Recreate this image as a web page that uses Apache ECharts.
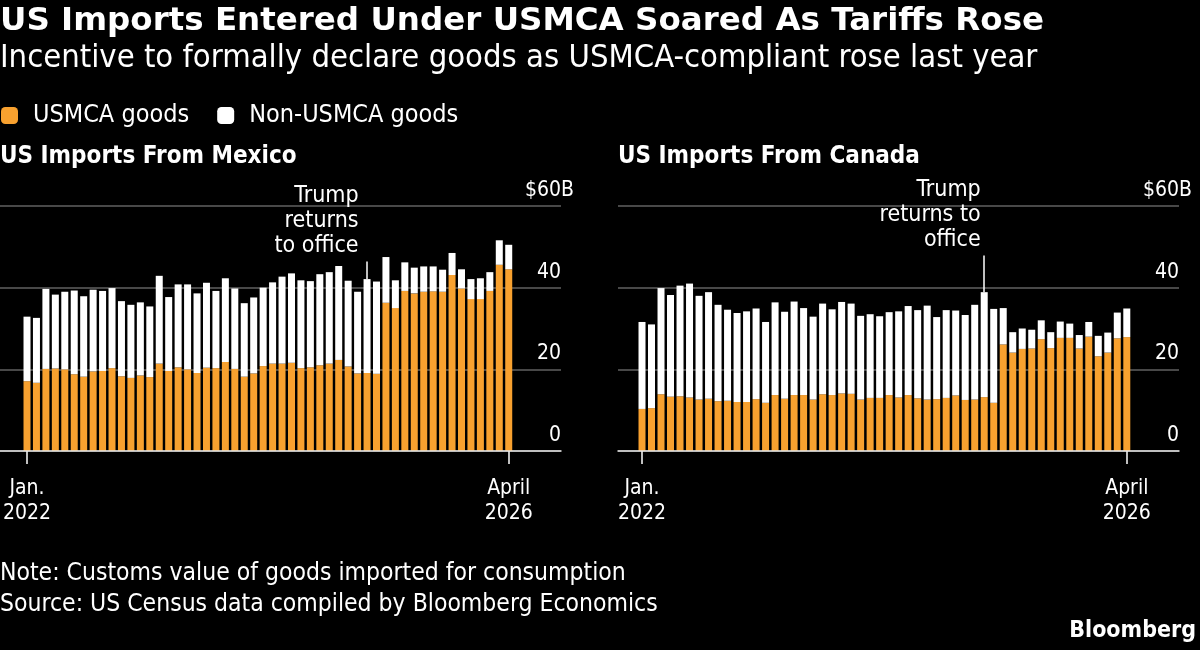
<!DOCTYPE html>
<html><head><meta charset="utf-8">
<script src="https://cdn.jsdelivr.net/npm/echarts@6/dist/echarts.min.js"></script>
<style>html,body{margin:0;padding:0;background:#000}#c{width:1200px;height:650px}</style>
</head><body><div id="c"></div>
<script>
// ---- data ----
const months = [];
for (let y = 2022; y <= 2026; y++) for (let m = 1; m <= 12; m++) { if (y === 2026 && m > 4) break; months.push(y + '-' + String(m).padStart(2, '0')); }
const mexicoUSMCA = [17.1,16.7,20.1,20.2,20.0,18.8,18.2,19.5,19.6,20.3,18.3,17.9,18.5,18.1,21.4,19.6,20.5,20.0,19.1,20.4,20.3,21.8,20.1,18.2,19.0,20.8,21.4,21.4,21.6,20.3,20.5,21.0,21.4,22.3,20.7,19.0,19.1,18.9,36.3,35.0,39.2,38.6,39.0,39.1,39.0,43.1,39.8,37.2,37.2,39.2,45.6,44.5];
const mexicoNonUSMCA = [15.8,15.9,19.6,18.1,19.0,20.5,19.7,20.0,19.6,19.6,18.4,17.9,17.9,17.3,21.5,18.1,20.3,20.8,19.5,20.8,18.9,20.5,19.7,18.0,18.6,19.2,19.9,21.3,21.9,21.5,21.1,22.3,22.4,23.0,21.0,20.0,23.0,22.6,11.2,6.8,7.0,6.3,6.2,6.1,5.4,5.4,4.7,4.9,5.1,4.6,6.0,6.0];
const canadaUSMCA = [10.3,10.5,13.9,13.3,13.4,13.1,12.6,12.8,12.2,12.3,12.0,12.0,12.7,11.8,13.7,12.8,13.7,13.7,12.6,13.9,13.7,14.1,14.0,12.6,13.0,13.0,13.7,13.1,13.7,12.9,12.6,12.7,13.0,13.6,12.5,12.6,13.2,11.8,26.1,24.1,25.0,25.1,27.4,25.2,27.7,27.7,25.1,28.0,23.2,24.1,27.6,27.9];
const canadaNonUSMCA = [21.3,20.5,26.0,24.9,27.1,27.9,25.4,26.1,23.6,22.3,21.8,22.2,22.2,19.8,22.7,21.3,22.9,21.3,20.3,22.2,21.0,22.4,22.1,20.5,20.5,20.0,20.3,21.1,21.8,21.6,23.0,20.1,21.5,20.8,20.8,23.2,25.7,23.0,8.9,5.0,5.0,4.6,4.6,3.9,4.0,3.5,3.3,3.6,5.0,4.9,6.3,7.0];
const yTicks = [0, 20, 40, 60];
const xTickLabels = ['Jan.\n2022', 'April\n2026'];
const seriesNames = ['USMCA goods', 'Non-USMCA goods'];
const trumpIndex = 36; // Jan. 2025
const annotationMexico = ['Trump', 'returns', 'to office'];
const annotationCanada = ['Trump', 'returns to', 'office'];
const annotationTop = [46.4, 47.9];

// ---- style ----
const ORANGE = '#f8a12f';
const COND = '"DejaVu Sans Condensed", "DejaVu Sans", sans-serif';
const WHITE = '#ffffff';
const GRID_TOP = 206, GRID_H = 245;
const panels = [
  { frameLeft: 0, barLeft: 19.45, barWidth: 494, usmca: mexicoUSMCA, non: mexicoNonUSMCA, stack: 'mx', ann: annotationMexico, annGap: 8.5, annTop: annotationTop[0] },
  { frameLeft: 618, barLeft: 637.25, barWidth: 494.3, usmca: canadaUSMCA, non: canadaNonUSMCA, stack: 'ca', ann: annotationCanada, annGap: 3.5, annTop: annotationTop[1] }
];

const grid = [], xAxis = [], yAxis = [], series = [];
panels.forEach((p, k) => {
  const fi = k * 2, bi = k * 2 + 1;
  grid.push({ left: p.frameLeft, top: GRID_TOP, width: 561, height: GRID_H });
  grid.push({ left: p.barLeft, top: GRID_TOP, width: p.barWidth, height: GRID_H });
  xAxis.push({ type: 'value', gridIndex: fi, min: 0, max: 1, axisLine: { show: true, lineStyle: { color: '#e6e6e6', width: 1.5 } }, axisTick: { show: false }, axisLabel: { show: false }, splitLine: { show: false }, z: 5 });
  xAxis.push({ type: 'category', gridIndex: bi, data: months, boundaryGap: true,
    axisLine: { show: false },
    axisTick: { show: true, alignWithLabel: true, length: 13, lineStyle: { color: WHITE, width: 1.5 }, interval: (i) => i === 0 || i === months.length - 1 },
    axisLabel: { show: true, color: WHITE, fontSize: 21, fontFamily: COND, lineHeight: 25, margin: 25,
      interval: (i) => i === 0 || i === months.length - 1,
      formatter: (v, i) => (i === 0 ? xTickLabels[0] : xTickLabels[1]) } });
  yAxis.push({ type: 'value', gridIndex: fi, position: 'right', min: yTicks[0], max: yTicks[yTicks.length - 1], interval: 20,
    axisLine: { show: false }, axisTick: { show: false },
    splitLine: { show: true, lineStyle: { color: '#606060', width: 1.5 } },
    axisLabel: { inside: true, color: WHITE, fontSize: 21, fontFamily: COND, verticalAlign: 'bottom', align: 'right', margin: -13, padding: [0, 0, 5, 0],
      formatter: (v) => v === 60 ? '$60B' : v + '{s|}', rich: { s: { width: 13 } } } });
  yAxis.push({ type: 'value', gridIndex: bi, min: yTicks[0], max: yTicks[yTicks.length - 1], show: false, splitLine: { show: false } });
  series.push({ name: seriesNames[0], type: 'bar', xAxisIndex: bi, yAxisIndex: bi, stack: p.stack, barWidth: 7, data: p.usmca, itemStyle: { color: ORANGE }, emphasis: { disabled: true } });
  series.push({ name: seriesNames[1], type: 'bar', xAxisIndex: bi, yAxisIndex: bi, stack: p.stack, barWidth: 7, data: p.non, itemStyle: { color: WHITE }, emphasis: { disabled: true },
    markLine: { silent: true, symbol: 'none', label: { show: false }, lineStyle: { color: WHITE, width: 1.5, type: 'solid' },
      data: [[{ coord: [months[trumpIndex], p.annTop] }, { coord: [months[trumpIndex], p.usmca[trumpIndex] + p.non[trumpIndex]] }]] } });
});

const titleBase = { padding: 0, textStyle: { color: WHITE, fontFamily: COND, fontSize: 24.5, fontWeight: 'normal' } };
const option = {
  backgroundColor: '#000',
  animation: false,
  title: [
    { text: 'US Imports Entered Under USMCA Soared As Tariffs Rose', left: 0, top: 5, padding: 0, textStyle: { color: WHITE, fontFamily: '"DejaVu Sans", sans-serif', fontSize: 32.5, fontWeight: 'bold' } },
    { text: 'Incentive to formally declare goods as USMCA-compliant rose last year', left: 0, top: 42, padding: 0, textStyle: { color: WHITE, fontFamily: COND, fontSize: 32.5, fontWeight: 'normal' } },
    { text: 'US Imports From Mexico', left: 0, top: 145, padding: 0, textStyle: { color: WHITE, fontFamily: COND, fontSize: 24, fontWeight: 'bold' } },
    { text: 'US Imports From Canada', left: 618, top: 145, padding: 0, textStyle: { color: WHITE, fontFamily: COND, fontSize: 24, fontWeight: 'bold' } },
    Object.assign({ text: 'Note: Customs value of goods imported for consumption', left: 0, top: 561 }, titleBase),
    Object.assign({ text: 'Source: US Census data compiled by Bloomberg Economics', left: 0, top: 592 }, titleBase),
    { text: 'Bloomberg', right: 4, top: 620, padding: 0, textStyle: { color: WHITE, fontFamily: COND, fontSize: 23, fontWeight: 'bold' } }
  ],
  legend: { left: 1, top: 103, padding: 0, icon: 'roundRect', itemWidth: 17, itemHeight: 17, itemGap: 28, selectedMode: false,
    textStyle: { color: WHITE, fontSize: 25, fontFamily: COND, padding: [0, 0, 0, 10] },
    data: [{ name: seriesNames[0], itemStyle: { color: ORANGE } }, { name: seriesNames[1], itemStyle: { color: WHITE } }] },
  grid, xAxis, yAxis, series
};

const chart = echarts.init(document.getElementById('c'), null, { renderer: 'canvas' });
chart.setOption(option);

const graphic = panels.map((p, k) => {
  const pt = chart.convertToPixel({ xAxisIndex: k * 2 + 1, yAxisIndex: k * 2 + 1 }, [trumpIndex, p.annTop]);
  return { type: 'text', x: pt[0] - p.annGap, y: pt[1] - 3, silent: true,
    style: { text: p.ann.join('\n'), fill: WHITE, font: '23px ' + COND, lineHeight: 25, align: 'right', verticalAlign: 'bottom' } };
});
chart.setOption({ graphic });
</script></body></html>
